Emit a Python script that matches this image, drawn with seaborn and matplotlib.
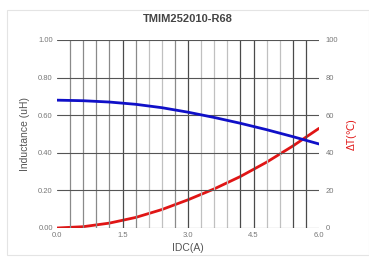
import matplotlib
matplotlib.use("Agg")
import matplotlib.pyplot as plt
import seaborn as sns
import pandas as pd
from matplotlib.patches import Rectangle

idc = [0.0, 0.6, 1.2, 1.8, 2.4, 3.0, 3.6, 4.2, 4.8, 5.4, 6.0]
inductance = [0.68, 0.677, 0.670, 0.658, 0.640, 0.616, 0.588, 0.557, 0.523, 0.486, 0.447]
delta_t = [0.0, 0.7, 2.6, 5.6, 9.8, 15.0, 20.8, 27.4, 35.0, 43.6, 53.0]
x_ticks = [0.0, 1.5, 3.0, 4.5, 6.0]
left_ticks = [0.0, 0.2, 0.4, 0.6, 0.8, 1.0]
right_ticks = [0, 20, 40, 60, 80, 100]

sns.set_theme(style="white")
plt.rcParams['font.family'] = ['Liberation Sans', 'DejaVu Sans']

df = pd.DataFrame({"IDC": idc, "L": inductance, "T": delta_t})

fig = plt.figure(figsize=(3.69, 2.58), dpi=100)
fig.patches.append(Rectangle((7/369, 3/258), 362/369, 245/258, transform=fig.transFigure,
                             fill=False, edgecolor="#e4e4e4", linewidth=0.8))
ax = fig.add_axes([57/369, 1-228/258, 262/369, 188/258])
ax2 = ax.twinx()

ax.set_xlim(0, 6)
ax.set_ylim(0, 1.0)
ax2.set_ylim(0, 100)

dark = {5, 10, 14, 15, 18, 19}
mid = {1, 2, 3, 4, 6, 9}
for k in range(1, 20):
    c = "#4a4a4a" if k in dark else ("#8a8a8a" if k in mid else "#c0c0c0")
    ax.axvline(k*0.3, color=c, lw=0.9, zorder=1)
for v in left_ticks:
    ax.axhline(v, color="#555555", lw=0.8, zorder=1)

sns.lineplot(data=df, x="IDC", y="L", ax=ax, color="#1010c8", lw=2.0, zorder=3)
sns.lineplot(data=df, x="IDC", y="T", ax=ax2, color="#e01515", lw=2.0, zorder=3)

for a in (ax, ax2):
    for s in a.spines.values():
        s.set_visible(False)

ax.set_xticks(x_ticks)
ax.set_xticklabels([f"{v:.1f}" for v in x_ticks])
ax.set_yticks(left_ticks)
ax.set_yticklabels([f"{v:.2f}" for v in left_ticks])
ax2.set_yticks(right_ticks)
ax2.set_yticklabels([str(v) for v in right_ticks])
ax.tick_params(axis="both", length=0, labelsize=5.5, labelcolor="#777777", pad=3)
ax2.tick_params(axis="y", length=0, labelsize=5.5, labelcolor="#777777", pad=5)

ax.set_xlabel("IDC(A)", fontsize=7.5, color="#555555", labelpad=3)
ax.set_ylabel("Inductance (uH)", fontsize=7.5, color="#555555", labelpad=6)
ax2.set_ylabel("ΔT(℃)", fontsize=7.5, color="#e01515", labelpad=6, rotation=90)
ax.set_zorder(ax2.get_zorder()+1)
ax.patch.set_visible(False)

fig.text(188/369, 1-19/258, "TMIM252010-R68", ha="center", va="center",
         fontsize=8, fontweight="bold", color="#444444")

fig.savefig("out.png", dpi=100)
